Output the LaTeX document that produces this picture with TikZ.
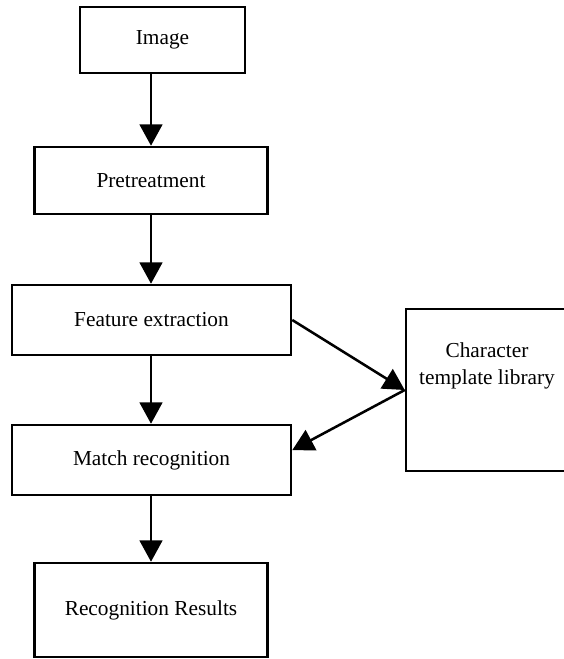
\documentclass[tikz,border=0pt]{standalone}
\usepackage{fontspec}
\setmainfont{Liberation Serif}
\usetikzlibrary{arrows.meta}
\begin{document}
\begin{tikzpicture}[x=0.75pt,y=-0.75pt,
		box/.style={draw,line width=1.9pt,inner sep=0pt,font=\fontsize{16}{19}\selectfont},
		arr/.style={line width=1.9pt,-{Triangle[length=16pt,width=17pt]}}]
			\useasboundingbox (0,0) rectangle (563,659);
			
			\node[box,minimum width=123.75pt,minimum height=49.5pt] (img) at (162.5,40) {Image};
			\node[box,minimum width=174.75pt,minimum height=50.25pt] (pre) at (151,180.5) {Pretreatment};
			\node[box,minimum width=209.25pt,minimum height=52.5pt] (feat) at (151.5,320) {Feature extraction};
			\node[box,minimum width=209.25pt,minimum height=52.5pt] (match) at (151.5,460) {Match recognition};
			\node[box,minimum width=174.75pt,minimum height=70.5pt] (res) at (151,610) {Recognition Results};
			
			\node[box,minimum width=124.5pt,minimum height=121.5pt] (lib) at (489,390) {};
			\node[font=\fontsize{16}{20}\selectfont,align=center] (libtxt) at (487,366) {Character\\template library};
			
			\draw[arr] (pre.north |- img.south)--(pre.north);
			\draw[arr] (pre.south)--(pre.south |- feat.north);
			\draw[arr] (feat.south -| pre.south)--(match.north -| pre.south);
			\draw[arr] (match.south -| pre.south)--(res.north);
			\draw[arr] (feat.east)--(lib.west);
			\draw[arr] (lib.west)--(match.4);
		\end{tikzpicture}
\end{document}
